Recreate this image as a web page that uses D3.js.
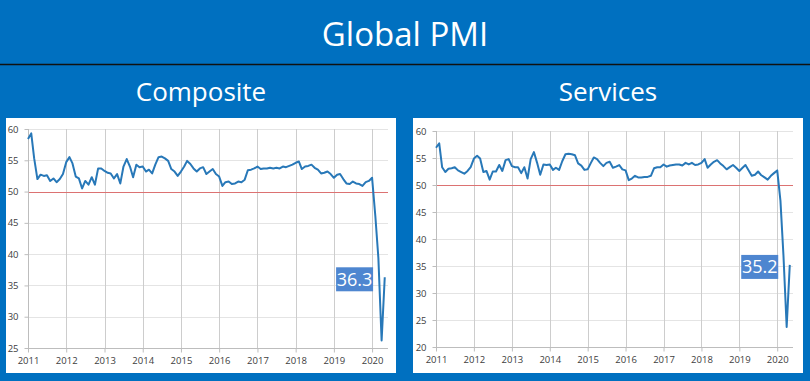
<!DOCTYPE html>
<html><head><meta charset="utf-8">
<script src="https://cdn.jsdelivr.net/npm/d3@7"></script>
<style>html,body{margin:0;padding:0;background:#0070C0;overflow:hidden}</style>
</head><body>
<script>
const title = "Global PMI";
const panelTitles = ["Composite", "Services"];
const yearLabels = ["2011","2012","2013","2014","2015","2016","2017","2018","2019","2020"];
const compositeTicks = [25,30,35,40,45,50,55,60];
const servicesTicks = [20,25,30,35,40,45,50,55,60];
const composite = [
58.4,59.3,55.3,52.0,52.7,52.5,52.6,51.7,52.1,51.5,52.0,52.8,
54.7,55.5,54.5,52.4,52.1,50.5,51.7,51.1,52.3,51.1,53.7,53.7,
53.3,53.0,52.9,52.1,52.8,51.3,54.0,55.2,54.0,52.3,54.3,53.9,
54.0,53.2,53.5,52.9,54.3,55.5,55.6,55.3,54.9,53.6,53.2,52.5,
53.2,54.0,54.9,54.4,53.7,53.2,53.7,53.9,52.8,53.2,53.6,52.8,
52.4,50.9,51.5,51.6,51.2,51.3,51.6,51.5,51.9,53.4,53.5,53.7,
54.0,53.6,53.7,53.7,53.8,53.7,53.8,53.7,54.0,53.9,54.1,54.3,
54.6,54.8,53.6,54.0,54.1,54.3,53.8,53.5,52.9,53.0,53.2,52.8,
52.2,52.7,52.8,52.0,51.3,51.2,51.6,51.3,51.2,50.9,51.5,51.7,
52.2,46.1,39.4,26.2,36.3];
const services = [
56.9,57.7,53.3,52.4,53.0,53.1,53.3,52.7,52.4,52.1,52.6,53.3,
54.9,55.4,54.9,52.4,52.6,51.0,52.5,52.5,53.7,52.6,54.6,54.8,
53.5,53.3,53.3,52.2,53.3,51.2,54.8,56.1,54.1,51.9,53.8,53.7,
53.8,52.8,53.2,52.8,54.4,55.7,55.8,55.7,55.5,54.0,53.6,52.8,
52.9,54.1,55.1,54.8,54.1,53.5,54.1,54.3,53.2,53.4,53.7,52.9,
52.7,50.9,51.2,51.7,51.4,51.4,51.5,51.5,51.7,53.1,53.3,53.3,
53.8,53.4,53.6,53.7,53.8,53.8,53.6,54.1,53.8,54.1,53.7,53.8,
54.1,54.8,53.2,53.8,54.3,54.6,54.0,53.5,52.9,53.3,53.7,53.2,
52.6,53.2,53.7,52.7,51.7,51.9,52.5,51.8,51.4,51.0,51.7,52.2,
52.7,47.1,37.0,23.7,35.2];
const startMonth = new Date(2011,0,1);
const months = d3.timeMonth.range(startMonth, new Date(2020,5,1));

const W = 810, H = 381;
const svg = d3.select("body").append("svg").attr("width",W).attr("height",H);
svg.append("rect").attr("width",W).attr("height",H).attr("fill","#0070C0");
svg.append("text").attr("x",405).attr("y",46).attr("text-anchor","middle")
  .attr("fill","#fff").style("font-family","'Open Sans'").style("font-size","33px").text(title);
svg.append("line").attr("x1",0).attr("x2",W).attr("y1",64.5).attr("y2",64.5)
  .attr("stroke","#111").attr("stroke-width",1.5);

const panels = [
  {px:6, pw:390, cx:201, x0:28, x1:388, y0:348, y1:129, dom:[25,60], ticks:compositeTicks, data:composite, label:"36.3"},
  {px:413, pw:390, cx:608, x0:436, x1:793, y0:347, y1:131, dom:[20,60], ticks:servicesTicks, data:services, label:"35.2"}
];

panels.forEach((p,i)=>{
  svg.append("text").attr("x",p.cx).attr("y",101).attr("text-anchor","middle")
    .attr("fill","#fff").style("font-family","'Open Sans'").style("font-size","26px").text(panelTitles[i]);
  svg.append("rect").attr("x",p.px).attr("y",118).attr("width",p.pw).attr("height",255).attr("fill","#fff");

  const x = d3.scaleTime().domain([startMonth, new Date(2020,5,1)]).range([p.x0,p.x1]);
  const y = d3.scaleLinear().domain(p.dom).range([p.y0,p.y1]);
  const g = svg.append("g");
  const yearDates = yearLabels.map(s=>new Date(+s,0,1));

  // horizontal gridlines
  g.selectAll(".hg").data(p.ticks.filter(t=>t!==p.dom[0])).enter().append("line")
    .attr("x1",p.x0).attr("x2",p.x1).attr("y1",d=>Math.round(y(d))+0.5).attr("y2",d=>Math.round(y(d))+0.5)
    .attr("stroke","#e4e4e4").attr("stroke-width",1);
  // vertical gridlines
  g.selectAll(".vg").data(yearDates.slice(1)).enter().append("line")
    .attr("x1",d=>Math.round(x(d))+0.5).attr("x2",d=>Math.round(x(d))+0.5).attr("y1",p.y1).attr("y2",p.y0)
    .attr("stroke","#cdcdcd").attr("stroke-width",1);
  // 50 reference line
  g.append("line").attr("x1",p.x0).attr("x2",p.x1).attr("y1",Math.round(y(50))+0.5).attr("y2",Math.round(y(50))+0.5)
    .attr("stroke","#dc7272").attr("stroke-width",1);

  const ya = g.append("g").attr("transform",`translate(${p.x0+0.5},0)`)
    .call(d3.axisLeft(y).tickValues(p.ticks).tickSize(4).tickPadding(6).tickFormat(d3.format("d")));
  const xa = g.append("g").attr("transform",`translate(0,${Math.round(p.y0)+0.5})`)
    .call(d3.axisBottom(x).tickValues(yearDates).tickSize(4).tickPadding(5).tickFormat((d,j)=>yearLabels[j]));
  [ya,xa].forEach(a=>{
    a.select(".domain").attr("stroke","#bdbdbd");
    a.selectAll(".tick line").attr("stroke","#bdbdbd");
    a.selectAll(".tick text").attr("fill","#404040").style("font-family","'Open Sans'").style("font-size","9.5px");
  });
  xa.select(".domain").attr("d",`M${p.x0},0H${p.x1}`);
  ya.select(".domain").attr("d",`M0,${p.y0}V${p.y1}`);

  const line = d3.line().x((d,j)=>x(months[j])).y(d=>y(d));
  g.append("path").datum(p.data).attr("d",line).attr("fill","none")
    .attr("stroke","#2878b8").attr("stroke-width",2).attr("stroke-linejoin","round");

  const last = p.data[p.data.length-1];
  const bx1 = x(new Date(2020,0,1)) + 1;
  const bw = 37, bh = 24;
  const by = y(last) + 2 - bh/2;
  g.append("rect").attr("x",bx1-bw).attr("y",by).attr("width",bw).attr("height",bh).attr("fill","#4e86d0");
  g.append("text").attr("x",bx1-bw/2).attr("y",by+bh/2+6.5).attr("text-anchor","middle")
    .attr("fill","#fff").style("font-family","'Open Sans'").style("font-size","18px").text(p.label);
});
</script>
</body></html>
